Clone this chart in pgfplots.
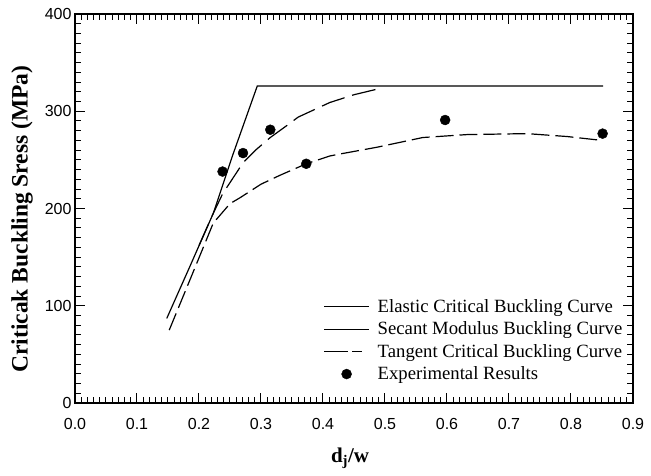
\documentclass[border=0pt]{standalone}
\usepackage{fontspec}
\setmainfont{Liberation Serif}
\newfontfamily\arial{Liberation Sans}
\usepackage{pgfplots}
\pgfplotsset{compat=1.18}
\begin{document}
\begin{tikzpicture}
\begin{axis}[
  at={(0,0)}, anchor=origin,
  scale only axis, width=558pt, height=389pt,
  xmin=0, xmax=0.9, ymin=0, ymax=400,
  xtick={0,0.1,...,0.9}, ytick={0,100,200,300,400},
  minor x tick num=9, minor y tick num=9,
  tick align=inside,
  major tick length=10pt, minor tick length=6pt,
  axis line style={line width=1.2pt},
  every tick/.style={black, line width=1pt},
  /pgf/number format/assume math mode=true,
  x tick label style={/pgf/number format/fixed, /pgf/number format/fixed zerofill, /pgf/number format/precision=1, yshift=-12pt},
  tick label style={font=\arial\fontsize{16}{16}\selectfont},
  xlabel={\textbf{d\textsubscript{j}/w}},
  ylabel={\textbf{Criticak Buckling Sress (MPa)}},
  every axis x label/.style={at={(axis description cs:0.493,-0.141)}, anchor=center, font=\fontsize{21}{23}\selectfont},
  every axis y label/.style={at={(axis description cs:-0.095,0.473)}, anchor=center, rotate=90, font=\fontsize{23.5}{25}\selectfont},
  legend cell align=left,
  legend style={at={(axis description cs:0.445,0.272)}, anchor=north west, draw=none, fill=none,
    inner sep=0pt, font=\fontsize{18.7}{20}\selectfont, row sep=4pt, column sep=6pt},
]
\addplot[black, line width=1.2pt,
  legend image code/.code={\draw[black, solid, line width=1.2pt] (0pt,0pt) -- (45pt,0pt);}]
  coordinates {(0.148,87) (0.185,140) (0.223,195) (0.255,256) (0.294,326) (0.852,326)};
\addlegendentry{Elastic Critical Buckling Curve}
\addplot[black, line width=1.2pt, dash pattern=on 24pt off 8pt,
  legend image code/.code={\draw[black, solid, line width=1.2pt] (0pt,0pt) -- (45pt,0pt);}]
  coordinates {(0.20,162) (0.223,195) (0.238,215) (0.271,247) (0.293,261) (0.315,273) (0.341,285) (0.360,294) (0.411,309) (0.45,317) (0.489,323)};
\addlegendentry{Secant Modulus Buckling Curve}
\addplot[black, line width=1.2pt, dash pattern=on 18pt off 6pt,
  legend image code/.code={\draw[black, solid, line width=1.2pt] (0pt,0pt) -- (24pt,0pt) (28pt,0pt) -- (38pt,0pt); \path (45pt,0pt);}]
  coordinates {(0.152,75) (0.185,126) (0.223,185) (0.250,205) (0.266,211) (0.30,225) (0.33,234) (0.373,246) (0.411,254) (0.427,256) (0.487,263) (0.561,273) (0.632,276) (0.729,277) (0.794,274) (0.85,270)};
\addlegendentry{Tangent Critical Buckling Curve}
\addplot[only marks, mark=*, mark size=5pt, black,
  legend image code/.code={\fill[black] (22.5pt,0pt) circle (5pt); \path (0pt,0pt) (45pt,0pt);}]
  coordinates {(0.238,238) (0.271,257) (0.315,281) (0.373,246) (0.597,291) (0.851,277)};
\addlegendentry{Experimental Results}
\end{axis}
\pgfresetboundingbox
\path[use as bounding box] (-75pt,-72pt) rectangle (576pt,403pt);
\end{tikzpicture}
\end{document}
